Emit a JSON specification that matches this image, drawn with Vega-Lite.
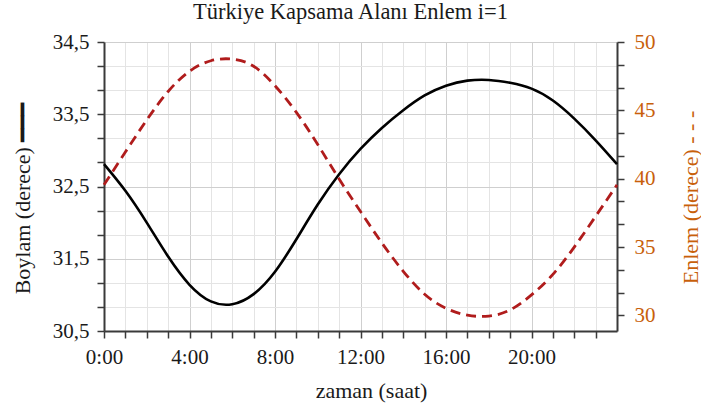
{
  "$schema": "https://vega.github.io/schema/vega-lite/v6.json",
  "width": 513,
  "height": 289,
  "autosize": "none",
  "padding": {"left": 104, "top": 42, "right": 84, "bottom": 76},
  "background": "white",
  "title": {
    "text": "Türkiye Kapsama Alanı Enlem i=1",
    "font": "Liberation Serif",
    "fontSize": 22.5,
    "fontWeight": "normal",
    "color": "#1a1a1a",
    "anchor": "middle",
    "frame": "group",
    "dx": -10,
    "baseline": "alphabetic",
    "offset": -10
  },
  "data": {
    "values": [
      {"t": 0, "B": 32.81, "E": 39.55},
      {"t": 1, "B": 32.44, "E": 41.95},
      {"t": 2, "B": 32.0, "E": 44.3},
      {"t": 3, "B": 31.53, "E": 46.38},
      {"t": 4, "B": 31.14, "E": 47.86},
      {"t": 5, "B": 30.91, "E": 48.63},
      {"t": 6, "B": 30.87, "E": 48.75},
      {"t": 7, "B": 31.01, "E": 48.23},
      {"t": 8, "B": 31.32, "E": 46.8},
      {"t": 9, "B": 31.77, "E": 44.85},
      {"t": 10, "B": 32.25, "E": 42.5},
      {"t": 11, "B": 32.67, "E": 39.98},
      {"t": 12, "B": 33.02, "E": 37.6},
      {"t": 13, "B": 33.31, "E": 35.3},
      {"t": 14, "B": 33.555, "E": 33.23},
      {"t": 15, "B": 33.76, "E": 31.55},
      {"t": 16, "B": 33.895, "E": 30.52},
      {"t": 17, "B": 33.965, "E": 30.02},
      {"t": 18, "B": 33.975, "E": 29.95},
      {"t": 19, "B": 33.935, "E": 30.4},
      {"t": 20, "B": 33.855, "E": 31.5},
      {"t": 21, "B": 33.69, "E": 33.0},
      {"t": 22, "B": 33.44, "E": 35.0},
      {"t": 23, "B": 33.14, "E": 37.25},
      {"t": 24, "B": 32.81, "E": 39.55}
    ]
  },
  "encoding": {
    "x": {
      "field": "t",
      "type": "quantitative",
      "scale": {"domain": [0, 24], "nice": false, "zero": false},
      "axis": {
        "title": "zaman (saat)",
        "values": [0,1,2,3,4,5,6,7,8,9,10,11,12,13,14,15,16,17,18,19,20,21,22,23],
        "labelExpr": "datum.value % 4 === 0 ? datum.value + ':00' : ''",
        "labelBaseline": "alphabetic",
        "labelPadding": 25,
        "labelFlush": false,
        "labelOverlap": false,
        "tickSize": 7,
        "grid": true,
        "gridColor": {"condition": {"test": "datum.value % 4 === 0", "value": "#cfcfcf"}, "value": "#e4e4e4"},
        "titleX": 267,
        "titleY": 66,
        "titleBaseline": "alphabetic",
        "encode": {
          "ticks": {
            "update": {
              "y": {"signal": "datum.value % 4 === 0 ? -7 : -4"},
              "y2": {"signal": "datum.value % 4 === 0 ? 7 : 4"}
            }
          }
        }
      }
    }
  },
  "layer": [
    {
      "mark": {"type": "line", "color": "#000000", "strokeWidth": 2.6, "interpolate": "natural"},
      "encoding": {
        "y": {
          "field": "B",
          "type": "quantitative",
          "scale": {"domain": [30.5, 34.5], "nice": false, "zero": false},
          "axis": {
            "orient": "left",
            "title": "Boylam (derece) ━━━",
            "values": [30.5, 30.8333, 31.1667, 31.5, 31.8333, 32.1667, 32.5, 32.8333, 33.1667, 33.5, 33.8333, 34.1667, 34.5],
            "labelExpr": "abs(datum.value - floor(datum.value) - 0.5) < 0.01 ? replace(format(datum.value, '.1f'), '.', ',') : ''",
            "labelPadding": 8,
            "labelFlush": false,
            "labelOverlap": false,
            "tickSize": 7,
            "grid": true,
            "gridColor": {"condition": {"test": "abs(datum.value - floor(datum.value) - 0.5) < 0.01", "value": "#cfcfcf"}, "value": "#e4e4e4"},
            "titleAngle": 270,
            "titleAlign": "center",
            "titleBaseline": "alphabetic",
            "titleX": -75,
            "titleY": 156,
            "encode": {
              "ticks": {
                "update": {
                  "x": {"signal": "abs(datum.value - floor(datum.value) - 0.5) < 0.01 ? 7 : 4"},
                  "x2": {"signal": "abs(datum.value - floor(datum.value) - 0.5) < 0.01 ? -7 : -4"}
                }
              }
            }
          }
        }
      }
    },
    {
      "mark": {"type": "line", "color": "#b01c1c", "strokeWidth": 2.8, "strokeDash": [10, 6], "interpolate": "natural"},
      "encoding": {
        "y": {
          "field": "E",
          "type": "quantitative",
          "scale": {"domain": [28.86, 50], "nice": false, "zero": false},
          "axis": {
            "orient": "right",
            "title": "Enlem (derece) - - -",
            "values": [30, 31.6667, 33.3333, 35, 36.6667, 38.3333, 40, 41.6667, 43.3333, 45, 46.6667, 48.3333, 50],
            "labelExpr": "abs(datum.value / 5 - round(datum.value / 5)) < 0.01 ? format(datum.value, 'd') : ''",
            "labelColor": "#c8600a",
            "labelPadding": 10,
            "labelFlush": false,
            "labelOverlap": false,
            "tickSize": 7,
            "grid": false,
            "titleColor": "#c8600a",
            "titleAngle": 270,
            "titleAlign": "center",
            "titleBaseline": "alphabetic",
            "titleX": 80,
            "titleY": 155,
            "encode": {
              "ticks": {
                "update": {
                  "x": {"signal": "abs(datum.value / 5 - round(datum.value / 5)) < 0.01 ? -7 : -4"},
                  "x2": {"signal": "abs(datum.value / 5 - round(datum.value / 5)) < 0.01 ? 7 : 4"}
                }
              }
            }
          }
        }
      }
    }
  ],
  "resolve": {"scale": {"y": "independent"}},
  "config": {
    "view": {"stroke": null},
    "font": "Liberation Serif",
    "axis": {
      "labelFont": "Liberation Serif",
      "labelFontSize": 21,
      "labelColor": "#1a1a1a",
      "titleFont": "Liberation Serif",
      "titleFontSize": 22,
      "titleFontWeight": "normal",
      "titleColor": "#1a1a1a",
      "domainColor": "#3a3a3a",
      "domainWidth": 2,
      "tickColor": "#3a3a3a",
      "tickWidth": 1.5,
      "gridWidth": 1
    }
  }
}
